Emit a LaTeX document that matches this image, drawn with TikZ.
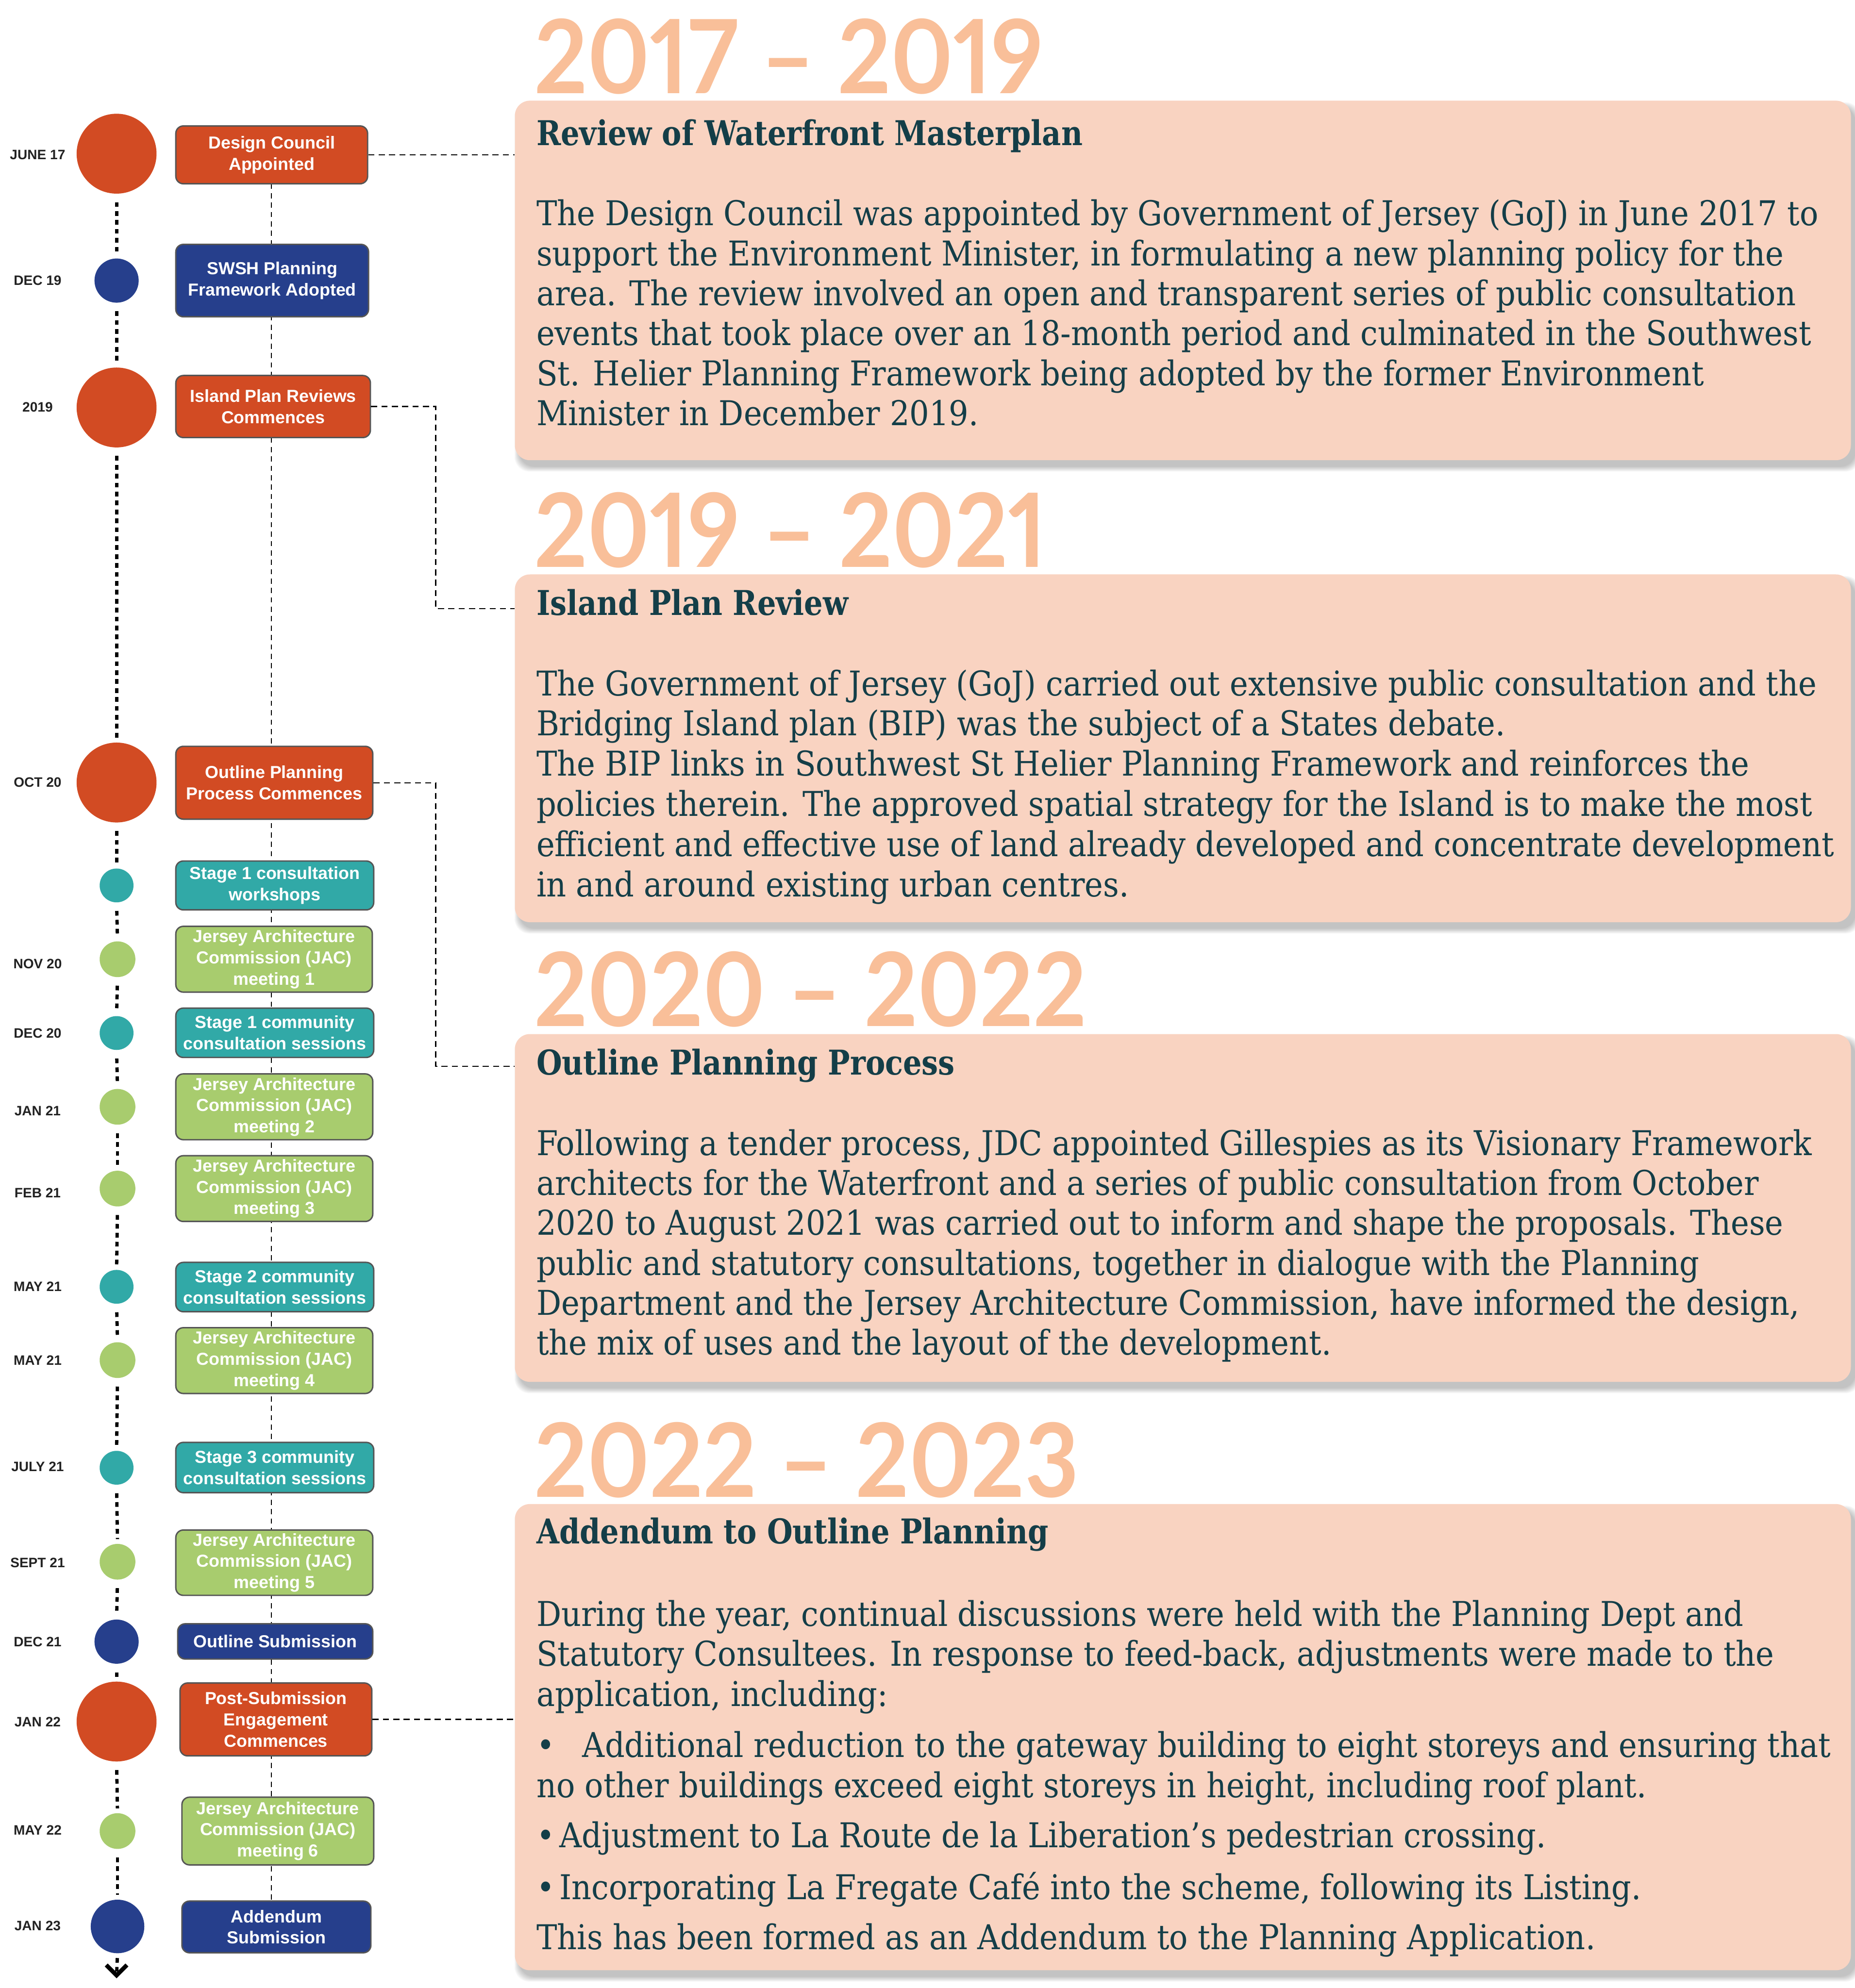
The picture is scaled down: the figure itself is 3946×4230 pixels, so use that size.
\documentclass[tikz,border=0pt]{standalone}
\usepackage{fontspec}
\setmainfont{DejaVu Serif}
\newfontfamily\bodyfont{DejaVu Serif}[FakeStretch=0.906]
\newfontfamily\headfont{DejaVu Serif}[FakeStretch=0.86]
\newfontfamily\yearfont{Lato}[Numbers=Proportional, FakeStretch=0.91]
\newfontfamily\labelsans{Liberation Sans}

\definecolor{cOrange}{HTML}{D24B23}
\definecolor{cBlue}{HTML}{263F8C}
\definecolor{cTeal}{HTML}{31A9A7}
\definecolor{cGreen}{HTML}{A8CC6E}
\definecolor{cEdge}{HTML}{555555}
\definecolor{cPanel}{HTML}{F9D3C1}
\definecolor{cYear}{HTML}{F9BF99}
\definecolor{cInk}{HTML}{143E48}
\definecolor{cDate}{HTML}{222222}

\tikzset{
  evbox/.style={draw=cEdge, line width=3pt, rounded corners=16pt, text=white,
    align=center, inner sep=0pt, font=\labelsans\bfseries\fontsize{37}{45}\selectfont},
  tdot/.style={circle, inner sep=0pt, draw=none},
  datelbl/.style={font=\labelsans\bfseries\fontsize{29}{29}\selectfont, text=cDate,
    inner sep=0pt, text height=20.8pt, text depth=0pt},
  panel/.style={fill=cPanel, rounded corners=32pt, inner sep=0pt, draw=none, anchor=north west},
  yeartxt/.style={font=\yearfont\bfseries\fontsize{218}{218}\selectfont, text=cYear,
    inner sep=0pt, anchor=base west},
  headtxt/.style={font=\headfont\bfseries\fontsize{72.7}{85}\selectfont, text=cInk,
    inner sep=0pt, anchor=base west},
  bodytxt/.style={font=\bodyfont\fontsize{72.7}{85}\selectfont, text=cInk,
    inner sep=0pt, anchor=base west},
  tline/.style={line width=7pt, dash pattern=on 10pt off 9pt},
  vconn/.style={line width=2.5pt, dash pattern=on 11pt off 9pt},
  hconn/.style={line width=2.5pt, dash pattern=on 13pt off 9pt},
  chev/.style={line width=9pt, line join=miter},
}

% event box: name, colour, centre x, centre y, width, height, text
\newcommand\evt[7]{\node[evbox, fill=#2, minimum width=#5pt, minimum height=#6pt] (#1) at (#3,#4) {#7};}
% timeline disc: name, colour, centre x, centre y, diameter
\newcommand\disc[5]{\node[tdot, fill=#2, minimum size=#5pt] (#1) at (#3,#4) {};}
% soft shadow under a panel: x1, y1, x2, y2
\newcommand\panelshadow[4]{%
  \foreach \k in {0,...,7}{%
    \fill[black, opacity=0.032, rounded corners=32pt]
      ({#1+10-\k*1.5},{#2+14-\k*1.5}) rectangle ({#3+10+\k*1.5},{#4+14+\k*1.5});
  }}

\begin{document}
\begin{tikzpicture}[x=1pt,y=-1pt]
\fill[white] (0,0) rectangle (3946,4230);
\useasboundingbox (0,0) rectangle (3946,4230);

% ---------- right-hand panels ----------
\panelshadow{1095}{214}{3937}{979}
\panelshadow{1095}{1222}{3937}{1962}
\panelshadow{1095}{2200}{3937}{2940}
\panelshadow{1095}{3200}{3937}{4192}
\node[panel, minimum width=2842pt, minimum height=765pt] (p1) at (1095,214) {};
\node[panel, minimum width=2842pt, minimum height=740pt] (p2) at (1095,1222) {};
\node[panel, minimum width=2842pt, minimum height=740pt] (p3) at (1095,2200) {};
\node[panel, minimum width=2842pt, minimum height=992pt] (p4) at (1095,3200) {};

% year headings
\node[yeartxt] (y1) at (1136,199) {2017 – 2019};
\node[yeartxt] (y2) at (1136,1207) {2019 – 2021};
\node[yeartxt] (y3) at (1136,2184) {2020 – 2022};
\node[yeartxt] (y4) at (1136,3185) {2022 – 2023};

% panel titles
\node[headtxt] (h1) at (1141,309) {Review of Waterfront Masterplan};
\node[headtxt] (h2) at (1141,1309) {Island Plan Review};
\node[headtxt] (h3) at (1141,2287) {Outline Planning Process};
\node[headtxt] (h4) at (1141,3284) {Addendum to Outline Planning};

% panel texts
\foreach \t [count=\i from 0] in {
  {The Design Council was appointed by Government of Jersey (GoJ) in June 2017 to},
  {support the Environment Minister, in formulating a new planning policy for the},
  {area. The review involved an open and transparent series of public consultation},
  {events that took place over an 18-month period and culminated in the Southwest},
  {St. Helier Planning Framework being adopted by the former Environment},
  {Minister in December 2019.}}
  \node[bodytxt] (ta-\i) at (1141,{480+85*\i}) {\t};

\foreach \t [count=\i from 0] in {
  {The Government of Jersey (GoJ) carried out extensive public consultation and the},
  {Bridging Island plan (BIP) was the subject of a States debate.},
  {The BIP links in Southwest St Helier Planning Framework and reinforces the},
  {policies therein. The approved spatial strategy for the Island is to make the most},
  {efficient and effective use of land already developed and concentrate development},
  {in and around existing urban centres.}}
  \node[bodytxt] (tb-\i) at (1141,{1480+85.5*\i}) {\t};

\foreach \t [count=\i from 0] in {
  {Following a tender process, JDC appointed Gillespies as its Visionary Framework},
  {architects for the Waterfront and a series of public consultation from October},
  {2020 to August 2021 was carried out to inform and shape the proposals. These},
  {public and statutory consultations, together in dialogue with the Planning},
  {Department and the Jersey Architecture Commission, have informed the design,},
  {the mix of uses and the layout of the development.}}
  \node[bodytxt] (tc-\i) at (1141,{2458+85*\i}) {\t};

\node[bodytxt] (td-1) at (1141,3460) {During the year, continual discussions were held with the Planning Dept and};
\node[bodytxt] (td-2) at (1141,3545) {Statutory Consultees. In response to feed-back, adjustments were made to the};
\node[bodytxt] (td-3) at (1141,3630) {application, including:};
\node[bodytxt] (td-4) at (1141,3739) {\makebox[98pt][l]{\textbullet}Additional reduction to the gateway building to eight storeys and ensuring that};
\node[bodytxt] (td-5) at (1141,3825) {no other buildings exceed eight storeys in height, including roof plant.};
\node[bodytxt] (td-6) at (1141,3931) {\makebox[49pt][l]{\textbullet}Adjustment to La Route de la Liberation’s pedestrian crossing.};
\node[bodytxt] (td-7) at (1141,4041) {\makebox[49pt][l]{\textbullet}Incorporating La Fregate Café into the scheme, following its Listing.};
\node[bodytxt] (td-8) at (1141,4148) {This has been formed as an Addendum to the Planning Application.};

% ---------- timeline ----------
% spine linking the event boxes
\coordinate (spTop) at (577,391);
\coordinate (spBot) at (577,4045);
\draw[vconn] (spTop) -- (spBot);

\evt{dc}{cOrange}{578}{329.5}{408}{123}{Design Council\\Appointed}
\evt{swsh}{cBlue}{579}{597}{410}{154}{SWSH Planning\\Framework Adopted}
\evt{ipr}{cOrange}{581}{865}{414}{132}{Island Plan Reviews\\Commences}
\evt{opp}{cOrange}{583.5}{1665.5}{419}{155}{Outline Planning\\Process Commences}
\evt{sow}{cTeal}{584.5}{1884}{421}{104}{Stage 1 consultation\\workshops}
\evt{jaa}{cGreen}{583}{2041}{418}{140}{Jersey Architecture\\Commission (JAC)\\meeting 1}
\evt{sca}{cTeal}{584.5}{2197.5}{421}{105}{Stage 1 community\\consultation sessions}
\evt{jab}{cGreen}{583.5}{2355}{419}{140}{Jersey Architecture\\Commission (JAC)\\meeting 2}
\evt{jac}{cGreen}{583.5}{2529}{419}{140}{Jersey Architecture\\Commission (JAC)\\meeting 3}
\evt{scb}{cTeal}{584.5}{2738.5}{421}{105}{Stage 2 community\\consultation sessions}
\evt{jad}{cGreen}{583.5}{2895}{419}{140}{Jersey Architecture\\Commission (JAC)\\meeting 4}
\evt{scc}{cTeal}{584.5}{3122.5}{421}{107}{Stage 3 community\\consultation sessions}
\evt{jae}{cGreen}{583.5}{3325}{419}{139}{Jersey Architecture\\Commission (JAC)\\meeting 5}
\evt{osub}{cBlue}{585.5}{3492.5}{415}{75}{Outline Submission}
\evt{psub}{cOrange}{587}{3658.5}{408}{155}{Post-Submission\\Engagement\\Commences}
\evt{jaf}{cGreen}{591}{3896}{408}{144}{Jersey Architecture\\Commission (JAC)\\meeting 6}
\evt{asub}{cBlue}{588}{4100}{402}{110}{Addendum\\Submission}

% discs
\disc{c1}{cOrange}{248}{327}{170}
\disc{c2}{cBlue}{248}{597}{94}
\disc{c3}{cOrange}{248}{867}{170}
\disc{c4}{cOrange}{248}{1665}{170}
\disc{c5}{cTeal}{248}{1884}{72}
\disc{c6}{cGreen}{250}{2041}{76}
\disc{c7}{cTeal}{248}{2198}{72}
\disc{c8}{cGreen}{250}{2355}{76}
\disc{c9}{cGreen}{250}{2529}{76}
\disc{c10}{cTeal}{248}{2738}{72}
\disc{c11}{cGreen}{250}{2894}{76}
\disc{c12}{cTeal}{248}{3123}{72}
\disc{c13}{cGreen}{250}{3323}{76}
\disc{c14}{cBlue}{248}{3493}{94}
\disc{c15}{cOrange}{248}{3663}{170}
\disc{c16}{cGreen}{250}{3896}{76}
\disc{c17}{cBlue}{250}{4099}{114}

\foreach \a/\b in {c1/c2,c2/c3,c3/c4,c4/c5,c5/c6,c6/c7,c7/c8,c8/c9,c9/c10,
                   c10/c11,c11/c12,c12/c13,c13/c14,c14/c15,c15/c16,c16/c17}
  \draw[tline, shorten <=18pt, shorten >=10pt] (\a.south) -- (\b.north);

% arrow at the foot of the timeline
\coordinate (tip) at (248,4203);
\coordinate (chevL) at (226,4181);
\coordinate (chevR) at (270,4181);
\draw[tline, shorten <=10pt, shorten >=8pt] (c17.south) -- (tip);
\draw[chev] (chevL) -- (tip) -- (chevR);

% dates
\node[datelbl] (d1) at (80,329) {JUNE 17};
\node[datelbl] (d2) at (80,596) {DEC 19};
\node[datelbl] (d3) at (80,866) {2019};
\node[datelbl] (d4) at (80,1664) {OCT 20};
\node[datelbl] (d6) at (80,2050) {NOV 20};
\node[datelbl] (d7) at (80,2198) {DEC 20};
\node[datelbl] (d8) at (80,2363) {JAN 21};
\node[datelbl] (d9) at (80,2538) {FEB 21};
\node[datelbl] (d10) at (80,2737) {MAY 21};
\node[datelbl] (d11) at (80,2894) {MAY 21};
\node[datelbl] (d12) at (80,3120) {JULY 21};
\node[datelbl] (d13) at (80,3325) {SEPT 21};
\node[datelbl] (d14) at (80,3493) {DEC 21};
\node[datelbl] (d15) at (80,3663) {JAN 22};
\node[datelbl] (d16) at (80,3894) {MAY 22};
\node[datelbl] (d17) at (80,4097) {JAN 23};

% links from milestones to the panels
\coordinate (iprTurn) at (927,1295);
\coordinate (oppTurn) at (927,2269);
\draw[hconn] (dc.east) -- (dc.east -| p1.west);
\draw[hconn] (ipr.east) -| (iprTurn) -- (iprTurn -| p2.west);
\draw[hconn] (opp.east) -| (oppTurn) -- (oppTurn -| p3.west);
\draw[hconn] (psub.east) -- (psub.east -| p4.west);
\end{tikzpicture}
\end{document}
